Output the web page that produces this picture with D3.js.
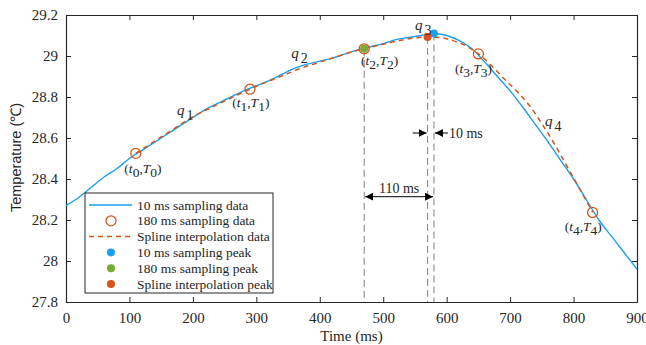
<!DOCTYPE html>
<html>
<head>
<meta charset="utf-8">
<script src="https://cdn.jsdelivr.net/npm/d3@7"></script>
<style>
  body { margin: 0; background: #fff; }
  svg text { font-family: "Liberation Serif", "Times New Roman", serif; fill: #262626; }
  .axis path, .axis line { stroke: #262626; }
</style>
</head>
<body>
<div id="vis"></div>
<script>
// 10 ms sampling data
var fineTime = [0, 20, 40, 60, 80, 100, 120, 140, 160, 180, 200, 220, 240, 260, 280, 300,
  320, 340, 360, 380, 400, 420, 440, 460, 480, 500, 520, 540, 560, 580, 600, 620, 640,
  660, 680, 700, 720, 740, 760, 780, 800, 820, 840, 860, 880, 900];
var fineTemp = [28.27, 28.31, 28.36, 28.41, 28.45, 28.50, 28.54, 28.58, 28.62, 28.66, 28.70,
  28.74, 28.77, 28.80, 28.83, 28.855, 28.88, 28.91, 28.94, 28.96, 28.975, 28.99, 29.01, 29.03,
  29.045, 29.06, 29.08, 29.09, 29.10, 29.11, 29.10, 29.075, 29.035, 28.97, 28.90, 28.83,
  28.75, 28.665, 28.58, 28.49, 28.40, 28.30, 28.20, 28.12, 28.04, 27.96];

// 180 ms sampling data
var coarseTime = [110, 290, 470, 650, 830];
var coarseTemp = [28.525, 28.838, 29.035, 29.01, 28.237];

// spline interpolation data
var splineTime = [110, 130, 150, 170, 190, 210, 230, 250, 270, 290, 310, 330, 350, 370, 390,
  410, 430, 450, 470, 490, 510, 530, 550, 570, 590, 610, 630, 650, 670, 690, 710, 730, 750,
  770, 790, 810, 830];
var splineTemp = [28.525, 28.565, 28.605, 28.645, 28.685, 28.72, 28.75, 28.78, 28.81, 28.838,
  28.865, 28.89, 28.915, 28.94, 28.96, 28.98, 29.0, 29.02, 29.035, 29.05, 29.065, 29.078,
  29.088, 29.093, 29.09, 29.075, 29.05, 29.01, 28.955, 28.89, 28.83, 28.76, 28.67, 28.57,
  28.46, 28.35, 28.237];

// peaks
var peaks = [
  { name: '10 ms sampling peak', t: 580, T: 29.11, color: '#1a9ff0' },
  { name: '180 ms sampling peak', t: 470, T: 29.035, color: '#77ac30' },
  { name: 'Spline interpolation peak', t: 570, T: 29.093, color: '#d95319' }
];

var segLabels = [
  { q: '1', t: 175, T: 28.71 },
  { q: '2', t: 355, T: 28.99 },
  { q: '3', t: 550, T: 29.125 },
  { q: '4', t: 755, T: 28.66 }
];
var pointLabels = [
  { i: '0', t: 92, T: 28.43 },
  { i: '1', t: 262, T: 28.75 },
  { i: '2', t: 465, T: 28.955 },
  { i: '3', t: 613, T: 28.915 },
  { i: '4', t: 786, T: 28.145 }
];

var xTicks = [0, 100, 200, 300, 400, 500, 600, 700, 800, 900];
var yTicks = [27.8, 28, 28.2, 28.4, 28.6, 28.8, 29, 29.2];

var blue = '#1a9ff0', orange = '#d95319';

var margin = { top: 15, left: 66, right: 9, bottom: 43 };
var width = 646, height = 345;

var svgRoot = d3.select('#vis').append('svg')
  .attr('width', width)
  .attr('height', height);

width = width - margin.left - margin.right;
height = height - margin.top - margin.bottom;

var svg = svgRoot.append('g')
  .attr('transform', 'translate(' + margin.left + ',' + margin.top + ')');

var defs = svgRoot.append('defs');
defs.append('marker')
  .attr('id', 'arrow')
  .attr('viewBox', '0 0 10 10')
  .attr('refX', 10).attr('refY', 5)
  .attr('markerWidth', 8).attr('markerHeight', 8)
  .attr('markerUnits', 'userSpaceOnUse')
  .attr('orient', 'auto-start-reverse')
  .append('path')
  .attr('d', 'M0,0L10,5L0,10z')
  .attr('fill', '#000');

var x = d3.scaleLinear().domain([0, 900]).range([0, width]);
var y = d3.scaleLinear().domain([27.8, 29.2]).range([height, 0]);

// axes (box with inward ticks)
svg.append('g').attr('class', 'axis')
  .attr('transform', 'translate(0,' + height + ')')
  .call(d3.axisBottom(x).tickValues(xTicks).tickSize(-5).tickPadding(10).tickSizeOuter(0))
  .selectAll('text').style('font-size', '15px');
svg.append('g').attr('class', 'axis')
  .call(d3.axisTop(x).tickValues(xTicks).tickSize(-5).tickFormat('').tickSizeOuter(0));
svg.append('g').attr('class', 'axis')
  .call(d3.axisLeft(y).tickValues(yTicks).tickSize(-5).tickPadding(8).tickSizeOuter(0)
    .tickFormat(function(d) { return d3.format('')(+d.toFixed(1)); }))
  .selectAll('text').style('font-size', '15px');
svg.append('g').attr('class', 'axis')
  .attr('transform', 'translate(' + width + ',0)')
  .call(d3.axisRight(y).tickValues(yTicks).tickSize(-5).tickFormat('').tickSizeOuter(0));
svg.selectAll('.axis .domain').attr('stroke-width', 1.2);

// labels
svg.append('text')
  .attr('x', width / 2).attr('y', height + 39)
  .attr('text-anchor', 'middle')
  .style('font-size', '15px')
  .text('Time (ms)');
svg.append('text')
  .attr('transform', 'rotate(-90)')
  .attr('x', -height / 2 + 1).attr('y', -45)
  .attr('text-anchor', 'middle')
  .style('font-family', '"Liberation Sans", Arial, sans-serif')
  .style('font-size', '14.5px')
  .text('Temperature (\u2103)');

// dashed guide lines
var guides = [
  { t: coarseTime[2], T: coarseTemp[2] },
  { t: peaks[2].t, T: peaks[2].T },
  { t: peaks[0].t, T: peaks[0].T }
];
svg.selectAll('.guide').data(guides).enter().append('line')
  .attr('class', 'guide')
  .attr('x1', function(d) { return x(d.t); })
  .attr('x2', function(d) { return x(d.t); })
  .attr('y1', function(d) { return y(d.T); })
  .attr('y2', height)
  .attr('stroke', '#7f7f7f')
  .attr('stroke-width', 1)
  .attr('stroke-dasharray', '7,4');

// lines
var line = d3.line()
  .curve(d3.curveMonotoneX)
  .x(function(d) { return x(d[0]); })
  .y(function(d) { return y(d[1]); });

svg.append('path')
  .datum(d3.zip(fineTime, fineTemp))
  .attr('fill', 'none')
  .attr('stroke', blue)
  .attr('stroke-width', 1.4)
  .attr('d', line);

svg.append('path')
  .datum(d3.zip(splineTime, splineTemp))
  .attr('fill', 'none')
  .attr('stroke', orange)
  .attr('stroke-width', 1.5)
  .attr('stroke-dasharray', '5,4')
  .attr('d', line);

// peak dots
svg.selectAll('.peak').data(peaks).enter().append('circle')
  .attr('class', 'peak')
  .attr('cx', function(d) { return x(d.t); })
  .attr('cy', function(d) { return y(d.T); })
  .attr('r', 4)
  .attr('fill', function(d) { return d.color; });

// sampling circles
svg.selectAll('.sample').data(d3.zip(coarseTime, coarseTemp)).enter().append('circle')
  .attr('class', 'sample')
  .attr('cx', function(d) { return x(d[0]); })
  .attr('cy', function(d) { return y(d[1]); })
  .attr('r', 5)
  .attr('fill', 'none')
  .attr('stroke', orange)
  .attr('stroke-width', 1.3);

// q labels
segLabels.forEach(function(d) {
  var t = svg.append('text')
    .attr('x', x(d.t)).attr('y', y(d.T))
    .style('font-size', '15px');
  t.append('tspan').style('font-style', 'italic').text('q');
  t.append('tspan').attr('dx', 2).attr('dy', 5).style('font-size', '14px').text(d.q);
});

// point labels
pointLabels.forEach(function(d) {
  var t = svg.append('text')
    .attr('x', x(d.t)).attr('y', y(d.T))
    .style('font-size', '13.5px');
  t.append('tspan').text('(');
  t.append('tspan').style('font-style', 'italic').text('t');
  t.append('tspan').attr('dy', 4).text(d.i);
  t.append('tspan').attr('dy', -4).text(',');
  t.append('tspan').style('font-style', 'italic').text('T');
  t.append('tspan').attr('dy', 4).text(d.i);
  t.append('tspan').attr('dy', -4).text(')');
});

// 110 ms arrow
var yA = 196.7 - margin.top;
svg.append('line')
  .attr('x1', x(coarseTime[2]) + 1).attr('x2', x(peaks[0].t) - 1)
  .attr('y1', yA).attr('y2', yA)
  .attr('stroke', '#000').attr('stroke-width', 1)
  .attr('marker-start', 'url(#arrow)')
  .attr('marker-end', 'url(#arrow)');
svg.append('text')
  .attr('x', (x(coarseTime[2]) + x(peaks[0].t)) / 2).attr('y', yA - 4)
  .attr('text-anchor', 'middle')
  .style('font-size', '14px')
  .text('110 ms');

// 10 ms arrows
var yB = 133 - margin.top;
svg.append('line')
  .attr('x1', x(peaks[2].t) - 15).attr('x2', x(peaks[2].t) - 1)
  .attr('y1', yB).attr('y2', yB)
  .attr('stroke', '#000').attr('marker-end', 'url(#arrow)');
svg.append('line')
  .attr('x1', x(peaks[0].t) + 14).attr('x2', x(peaks[0].t) + 1)
  .attr('y1', yB).attr('y2', yB)
  .attr('stroke', '#000').attr('marker-end', 'url(#arrow)');
svg.append('text')
  .attr('x', x(peaks[0].t) + 15).attr('y', yB + 4.5)
  .style('font-size', '14px')
  .text('10 ms');

// legend
var legendItems = [
  { name: '10 ms sampling data', type: 'line' },
  { name: '180 ms sampling data', type: 'circle' },
  { name: 'Spline interpolation data', type: 'dash' },
  { name: peaks[0].name, type: 'dot', color: peaks[0].color },
  { name: peaks[1].name, type: 'dot', color: peaks[1].color },
  { name: peaks[2].name, type: 'dot', color: peaks[2].color }
];
var legend = svgRoot.append('g').attr('transform', 'translate(85,193)');
legend.append('rect')
  .attr('width', 188).attr('height', 100)
  .attr('fill', '#fff').attr('stroke', '#262626').attr('stroke-width', 1);
var rows = legend.selectAll('.row').data(legendItems).enter().append('g')
  .attr('transform', function(d, i) { return 'translate(0,' + (12 + i * 15.8) + ')'; });
rows.each(function(d) {
  var g = d3.select(this);
  if (d.type === 'line' || d.type === 'dash') {
    g.append('line').attr('x1', 4).attr('x2', 47).attr('y1', 0).attr('y2', 0)
      .attr('stroke', d.type === 'line' ? blue : orange)
      .attr('stroke-width', 1.5)
      .attr('stroke-dasharray', d.type === 'dash' ? '5,4' : null);
  } else if (d.type === 'circle') {
    g.append('circle').attr('cx', 26).attr('cy', 0).attr('r', 5)
      .attr('fill', 'none').attr('stroke', orange).attr('stroke-width', 1.3);
  } else {
    g.append('circle').attr('cx', 26).attr('cy', 0).attr('r', 4).attr('fill', d.color);
  }
  g.append('text').attr('x', 52).attr('y', 4.5)
    .style('font-size', '13.5px')
    .text(d.name);
});
</script>
</body>
</html>
